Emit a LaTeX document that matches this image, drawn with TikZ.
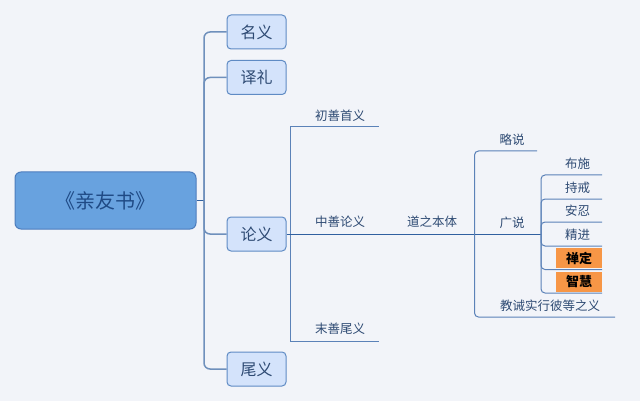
\documentclass[tikz,border=0pt]{standalone}
\usepackage{fontspec}
\setmainfont{Noto Sans CJK SC}
\definecolor{bg}{HTML}{F2F4F9}
\definecolor{rootfill}{HTML}{68A2DF}
\definecolor{rootdraw}{HTML}{4D7DBD}
\definecolor{boxfill}{HTML}{D4E3FB}
\definecolor{boxdraw}{HTML}{5F8BC4}
\definecolor{txt}{HTML}{2E4A73}
\definecolor{roottxt}{HTML}{1F4A85}
\definecolor{conA}{HTML}{6F90BC}
\definecolor{conB}{HTML}{3060A0}
\definecolor{conC}{HTML}{5B82B8}
\definecolor{orangebox}{HTML}{F79646}
\tikzset{
  rootbox/.style={draw=rootdraw,fill=rootfill,line width=1pt,rounded corners=6pt,
    minimum width=181pt,minimum height=57pt,inner sep=0pt,text=roottxt,font=\fontsize{20}{24}\selectfont},
  topbox/.style={draw=boxdraw,fill=boxfill,line width=1pt,rounded corners=4pt,
    minimum width=59pt,minimum height=34pt,inner sep=0pt,text=txt,font=\fontsize{16}{19}\selectfont},
  lbl/.style={inner sep=0pt,text=txt,font=\fontsize{12.5}{15}\selectfont},
  hot/.style={fill=orangebox,minimum width=46pt,minimum height=20pt,inner sep=0pt,
    text=black,font=\fontsize{13}{15}\selectfont\bfseries},
  conn1/.style={draw=conA,line width=1.5pt},
  conn2/.style={draw=conB,line width=0.9pt},
  conn3/.style={draw=conC,line width=1pt},
}
\begin{document}
\begin{tikzpicture}[x=1pt,y=-1pt]
\fill[bg] (0,0) rectangle (640,401);
\useasboundingbox (0,0) rectangle (640,401);

% root and first level
\node[rootbox] (root) at (105.5,200.5) {《亲友书》};
\node[topbox] (ming) at (256.5,32) {名义};
\node[topbox] (yi) at (256.5,77.5) {译礼};
\node[topbox] (lun) at (256.5,234) {论义};
\node[topbox] (wei) at (256.5,369) {尾义};

\coordinate (j1) at (204,200.5);
\draw[conn2] (root.east) -- (j1);
\draw[conn1,rounded corners=6pt] (j1) |- (ming.west);
\draw[conn1,rounded corners=6pt] (j1) |- (yi.west);
\draw[conn1,rounded corners=6pt] (j1) |- (lun.west);
\draw[conn1,rounded corners=6pt] (j1) |- (wei.west);

% second level
\node[lbl] (chu) at (340,116) {初善首义};
\node[lbl] (zhong) at (340,222) {中善论义};
\node[lbl] (mo) at (340,329) {末善尾义};
\coordinate (j2) at (290,234);
\coordinate (chuE) at (379,127);
\coordinate (moE) at (379,341);
\draw[conn3] (j2) |- (chuE);
\draw[conn3] (j2) |- (moE);

% third level
\node[lbl] (dao) at (432,222) {道之本体};
\coordinate (j3) at (474.5,234);
\draw[conn2] (lun.east) -- (j3);

\node[lbl] (lue) at (512,140) {略说};
\node[lbl] (guang) at (512,223) {广说};
\node[lbl] (jiao) at (550,306) {教诫实行彼等之义};
\coordinate (lueE) at (537,151);
\coordinate (jiaoE) at (615,317);
\coordinate (j4) at (541,234);
\draw[conn3,rounded corners=4pt] (j3) |- (lueE);
\draw[conn3,rounded corners=4pt] (j3) |- (jiaoE);
\draw[conn2] (j3) -- (j4);

% fourth level
\node[lbl] (bu) at (577.5,163.5) {布施};
\node[lbl] (chi) at (577.5,187.5) {持戒};
\node[lbl] (an) at (577.5,211) {安忍};
\node[lbl] (jing) at (577.5,234.5) {精进};
\node[hot] (chan) at (579,258) {禅定};
\node[hot] (zhi) at (579,282) {智慧};
\coordinate (buE) at (602,175);
\coordinate (chiE) at (602,199);
\coordinate (anE) at (602,222);
\coordinate (jingE) at (602,246);
\coordinate (chanE) at (602,269.5);
\coordinate (zhiE) at (602,293);
\draw[conn3,rounded corners=4pt] (j4) |- (buE);
\draw[conn3,rounded corners=4pt] (j4) |- (chiE);
\draw[conn3,rounded corners=4pt] (j4) |- (anE);
\draw[conn3,rounded corners=4pt] (j4) |- (jingE);
\draw[conn3,rounded corners=4pt] (j4) |- (chanE);
\draw[conn3,rounded corners=4pt] (j4) |- (zhiE);
\end{tikzpicture}
\end{document}
